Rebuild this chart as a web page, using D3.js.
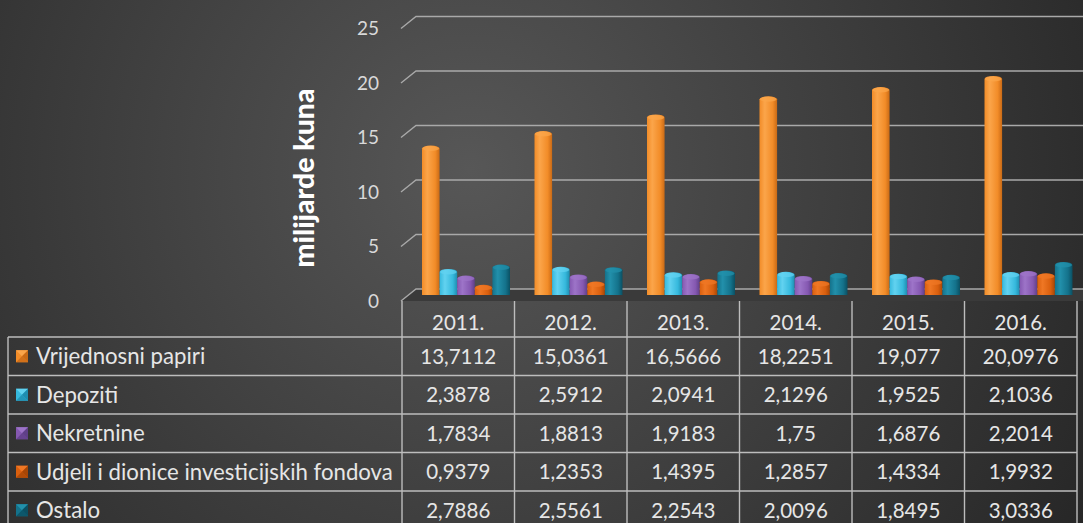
<!DOCTYPE html>
<html><head><meta charset="utf-8">
<script src="https://cdn.jsdelivr.net/npm/d3@7"></script>
<style>html,body{margin:0;padding:0;background:#333;}svg{display:block;}</style>
</head><body>
<svg id="c" width="1083" height="523"></svg>
<script>
const years = ["2011.","2012.","2013.","2014.","2015.","2016."];
const seriesNames = ["Vrijednosni papiri","Depoziti","Nekretnine","Udjeli i dionice investicijskih fondova","Ostalo"];
const vrijednosni = [13.7112,15.0361,16.5666,18.2251,19.077,20.0976];
const depoziti = [2.3878,2.5912,2.0941,2.1296,1.9525,2.1036];
const nekretnine = [1.7834,1.8813,1.9183,1.75,1.6876,2.2014];
const udjeli = [0.9379,1.2353,1.4395,1.2857,1.4334,1.9932];
const ostalo = [2.7886,2.5561,2.2543,2.0096,1.8495,3.0336];
const yTicks = [0,5,10,15,20,25];
const seriesValues = [vrijednosni, depoziti, nekretnine, udjeli, ostalo];
const colors = [
  {base:"#f28c28", light:"#fba54a", dark:"#c96a16"},
  {base:"#36b9dd", light:"#62d2f0", dark:"#1e8db0"},
  {base:"#8558b1", light:"#9d74c8", dark:"#5f3f88"},
  {base:"#d95f0e", light:"#ef7724", dark:"#a64606"},
  {base:"#14728b", light:"#2290ab", dark:"#0b5063"}
];
const fmt = v => String(v).replace(".", ",");

const svg = d3.select("#c");
const W = 1083, H = 523;
const defs = svg.append("defs");
const bg = defs.append("radialGradient").attr("id","bg").attr("gradientUnits","userSpaceOnUse")
  .attr("cx",470).attr("cy",170).attr("r",720);
bg.append("stop").attr("offset","0%").attr("stop-color","#575757");
bg.append("stop").attr("offset","100%").attr("stop-color","#262626");
svg.append("rect").attr("width",W).attr("height",H).attr("fill","url(#bg)");

colors.forEach((c,i)=>{
  const g = defs.append("linearGradient").attr("id","bar"+i).attr("x1","0%").attr("x2","100%");
  g.append("stop").attr("offset","0%").attr("stop-color",c.base);
  g.append("stop").attr("offset","30%").attr("stop-color",c.light);
  g.append("stop").attr("offset","75%").attr("stop-color",c.base);
  g.append("stop").attr("offset","100%").attr("stop-color",c.dark);
});

// scales
const x = d3.scaleBand().domain(years).range([402, 1077]);
const yBar = d3.scaleLinear().domain([0,25]).range([295, 295-25*10.9]);
const yBack = d3.scaleLinear().domain([0,25]).range([289, 289-25*10.9]);
const yFront = d3.scaleLinear().domain([0,25]).range([301, 301-25*10.9]);
const depthX = 15;

// floor
svg.append("polygon")
  .attr("points", [[401,yFront(0)],[401+depthX,yBack(0)],[W,yBack(0)],[W,yFront(0)]].map(p=>p.join(",")).join(" "))
  .attr("fill","#3a3a3a");

// gridlines (back wall + left wall diagonal)
const grid = svg.append("g");
yTicks.forEach(t=>{
  grid.append("path")
    .attr("d", `M401,${yFront(t)}L${401+depthX},${yBack(t)}L${W},${yBack(t)}`)
    .attr("fill","none").attr("stroke","#a9a9a9").attr("stroke-width",1.4);
});

// y tick labels
svg.append("g").selectAll("text").data(yTicks).join("text")
  .attr("x",379).attr("y",d=>yFront(d)).attr("dy","0.36em")
  .attr("text-anchor","end").attr("fill","#d9d9d9")
  .style("font-family","Lato, 'Open Sans', sans-serif").style("font-size","19px")
  .text(d=>d);

// axis title
const title = svg.append("text")
  .attr("transform","translate(304,178) rotate(-90)")
  .attr("text-anchor","middle").attr("dy","0.36em")
  .attr("fill","#ffffff").style("font-family","Lato, 'Liberation Sans', sans-serif")
  .style("font-weight","900").style("font-size","26px")
  .text("milijarde kuna");
{
  const len = title.node().getComputedTextLength();
  if (len > 0) title.style("font-size", (26*179/len).toFixed(2)+"px");
}

// bars
const inner = d3.scaleBand().domain(d3.range(seriesNames.length)).range([20, 108]);
const bars = svg.append("g");
years.forEach((yr,yi)=>{
  seriesValues.forEach((vals,si)=>{
    const bx = x(yr) + inner(si);
    const bw = inner.bandwidth();
    const top = yBar(vals[yi]);
    const base = yBar(0);
    const ry = 3;
    bars.append("path")
      .attr("d", `M${bx},${base}L${bx},${top+ry}A${bw/2},${ry} 0 0 1 ${bx+bw},${top+ry}L${bx+bw},${base}Z`)
      .attr("fill","url(#bar"+si+")");
    bars.append("ellipse")
      .attr("cx",bx+bw/2).attr("cy",top+ry).attr("rx",bw/2-0.5).attr("ry",ry-0.5)
      .attr("fill",colors[si].light).attr("opacity",0.75);
  });
});

// table
const tbl = svg.append("g");
const rowTop = 337, rowH = 38.5, tableLeft = 8;
const lineColor = "#bdbdbd";
const font = "Lato, 'Open Sans', sans-serif";
x.domain().forEach(yr=>{
  tbl.append("line").attr("x1",x(yr)).attr("x2",x(yr)).attr("y1",yFront(0)).attr("y2",H)
    .attr("stroke",lineColor).attr("stroke-width",1.4);
});
tbl.append("line").attr("x1",x.range()[1]).attr("x2",x.range()[1]).attr("y1",yFront(0)).attr("y2",H)
  .attr("stroke",lineColor).attr("stroke-width",1.4);
tbl.append("line").attr("x1",tableLeft).attr("x2",tableLeft).attr("y1",rowTop).attr("y2",H)
  .attr("stroke",lineColor).attr("stroke-width",1.4);
for(let r=0;r<=seriesNames.length;r++){
  tbl.append("line").attr("x1",tableLeft).attr("x2",x.range()[1]).attr("y1",rowTop+r*rowH).attr("y2",rowTop+r*rowH)
    .attr("stroke",lineColor).attr("stroke-width",1.4);
}
tbl.selectAll("text.hdr").data(years).join("text").attr("class","hdr")
  .attr("x",d=>x(d)+x.bandwidth()/2).attr("y",323).attr("dy","0.36em")
  .attr("text-anchor","middle").attr("fill","#e6e6e6")
  .style("font-family",font).style("font-size","20.5px").text(d=>d);
seriesNames.forEach((name,si)=>{
  const cy = rowTop + si*rowH + rowH/2;
  const c = colors[si];
  const ms = 12, mx = 16, my = cy-ms/2;
  const m = tbl.append("g");
  m.append("rect").attr("x",mx).attr("y",my).attr("width",ms).attr("height",ms).attr("fill",c.base);
  m.append("polygon").attr("points",`${mx},${my} ${mx+ms},${my} ${mx+ms/2},${my+ms/2}`).attr("fill",c.light);
  m.append("polygon").attr("points",`${mx+ms},${my} ${mx+ms},${my+ms} ${mx+ms/2},${my+ms/2}`).attr("fill",c.dark);
  m.append("polygon").attr("points",`${mx},${my+ms} ${mx+ms},${my+ms} ${mx+ms/2},${my+ms/2}`).attr("fill",c.dark).attr("opacity",0.8);
  tbl.append("text").attr("x",36).attr("y",cy).attr("dy","0.36em")
    .attr("fill","#e6e6e6").style("font-family",font).style("font-size","22.2px").text(name);
  years.forEach((yr,yi)=>{
    tbl.append("text").attr("x",x(yr)+x.bandwidth()/2).attr("y",cy).attr("dy","0.36em")
      .attr("text-anchor","middle").attr("fill","#e6e6e6")
      .style("font-family",font).style("font-size","20.5px").text(fmt(seriesValues[si][yi]));
  });
});
</script>
</body></html>
